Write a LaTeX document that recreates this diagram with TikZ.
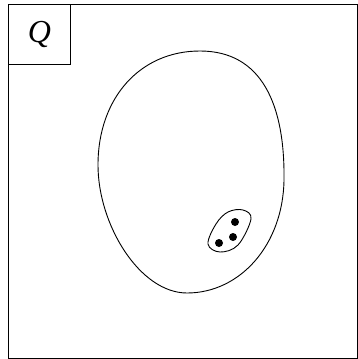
\documentclass[tikz,border=0pt]{standalone}
\usepackage{fontspec}
\setmainfont{Liberation Serif}
\usepackage{tikz}

\begin{document}
\begin{tikzpicture}[x=1pt,y=-1pt,line width=0.9pt,
  dot/.style={circle,fill=black,inner sep=0pt,minimum size=8pt}]
  \useasboundingbox (0,0) rectangle (357,359);
  % outer frame and label box
  \draw (8,4) rectangle (357,358.5);
  \node[draw,line width=0.9pt,minimum width=62pt,minimum height=60pt,anchor=north west,inner sep=0pt] (label) at (8,4) {\fontsize{32}{32}\selectfont\itshape Q};
  % big region
  \draw (200,51) .. controls (262,51) and (285,105) .. (284,180)
                 .. controls (283,245) and (240,293) .. (187,293)
                 .. controls (140,293) and (98,225) .. (98,165)
                 .. controls (98,98) and (140,51) .. cycle;
  % small region with points
  \draw plot[smooth cycle,tension=0.6] coordinates {(243,210) (251,219) (238,245) (220,252) (208,244) (216,224) (228,212)};
  \node[dot] (p1) at (235,222) {};
  \node[dot] (p2) at (233,237) {};
  \node[dot] (p3) at (219,243) {};
\end{tikzpicture}
\end{document}
